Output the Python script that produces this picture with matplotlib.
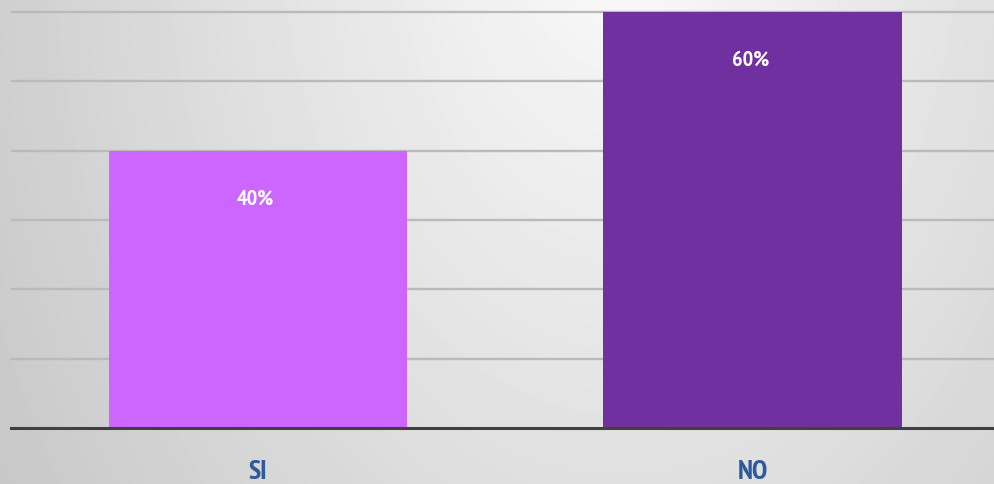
import numpy as np
import matplotlib
matplotlib.use("Agg")
from matplotlib import pyplot as plt

categorie = ["SI", "NO"]
valori = [40, 60]
etichette = ["40%", "60%"]
colori = ["#CC66FF", "#7030A0"]

plt.rcParams["font.family"] = ["PT Sans Narrow", "DejaVu Sans"]

fig = plt.figure(figsize=(9.95, 4.85), dpi=100)

# sfondo grigio sfumato, piu' chiaro in alto verso destra
bg = fig.add_axes([0, 0, 1, 1])
yy, xx = np.mgrid[0:485, 0:995]
r = np.sqrt(((xx - 620) / 995.0) ** 2 + ((yy + 100) / 1500.0) ** 2)
grigio = np.clip(0.985 - 0.275 * r, 0.76, 1.0)
bg.imshow(grigio, cmap="gray", vmin=0, vmax=1, aspect="auto", interpolation="bilinear")
bg.axis("off")

ax = fig.add_axes([11 / 995, 56 / 485, 984 / 995, 423 / 485])
ax.patch.set_alpha(0)

x = np.arange(len(categorie))
ax.bar(x, valori, width=0.604, color=colori, zorder=2)

for xi, v, t in zip(x, valori, etichette):
    ax.text(xi - 0.005, v - 6.8, t, ha="center", va="center", color="white",
            fontsize=16, fontweight="bold")

ax.set_xlim(-0.499, 1.489)
ax.set_ylim(0, 61)
ax.set_yticks(range(10, 70, 10))
ax.yaxis.grid(True, color="#bababa", linewidth=1.7, zorder=1)
ax.tick_params(left=False, labelleft=False, bottom=False)
ax.set_xticks(x)
ax.set_xticklabels(categorie, fontsize=20, fontweight="bold", color="#2E5A9C")
ax.tick_params(axis="x", pad=19)
for lato in ["top", "right", "left"]:
    ax.spines[lato].set_visible(False)
ax.spines["bottom"].set_color("#404040")
ax.spines["bottom"].set_linewidth(2.2)
ax.spines["bottom"].set_zorder(3)

plt.savefig("out.png", dpi=100)
plt.close()
